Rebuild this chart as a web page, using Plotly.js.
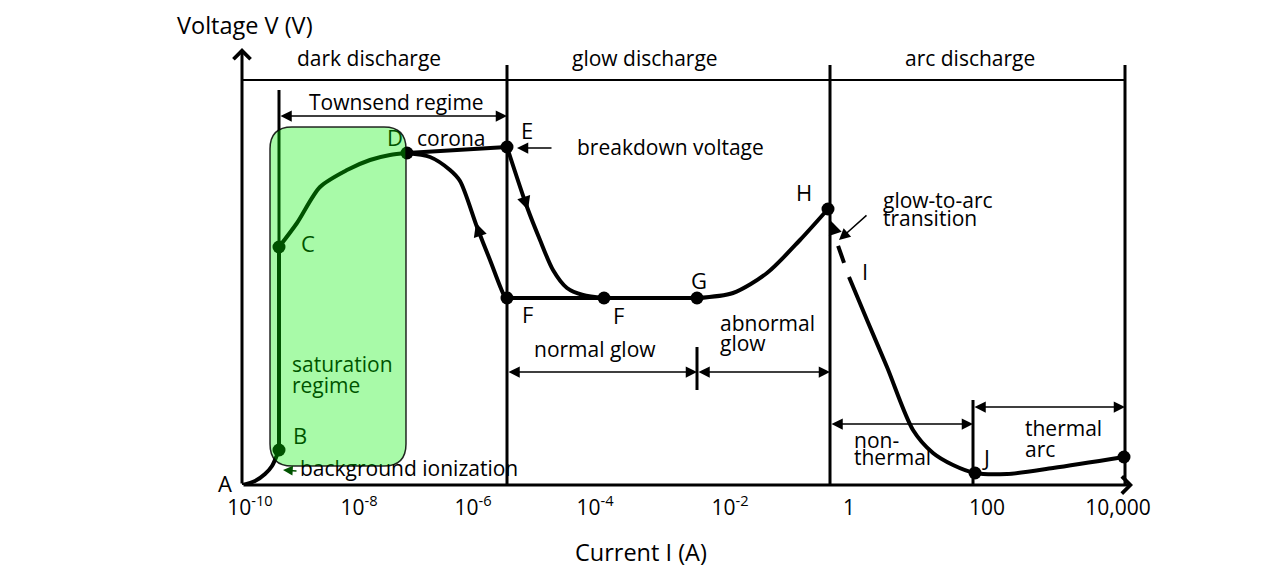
<!DOCTYPE html>
<html><head><meta charset="utf-8">
<script src="https://cdn.plot.ly/plotly-3.0.1.min.js"></script>
<style>html,body{margin:0;padding:0;background:#fff}</style>
</head><body><div id="chart" style="width:1279px;height:577px"></div>
<script>
// Schematic position along the (log) current axis and schematic voltage height
const tickPos = [8, 117, 231, 353, 488, 607, 745, 876];
const tickLabels = ['10<sup>-10</sup>', '10<sup>-8</sup>', '10<sup>-6</sup>', '10<sup>-4</sup>', '10<sup>-2</sup>', '1', '100', '10,000'];

// curve segments
const abX = [0, 13, 23, 30, 37];
const abY = [0, 4, 11, 19, 35];
const bcX = [37, 37];
const bcY = [35, 238];
const cdX = [37, 55, 78, 105, 128, 148, 165];
const cdY = [238, 262, 298, 315, 325, 330, 332];
const deX = [165, 265];
const deY = [332, 338];
const coronaX = [165, 188, 208, 218, 235, 248, 263, 265];
const coronaY = [332, 328, 315, 304, 258, 225, 188, 187];
const efX = [265, 285, 298, 311, 325, 341, 362];
const efY = [338, 278, 245, 215, 197, 190, 187];
const fgX = [265, 362, 455];
const fgY = [187, 187, 187];
const ghX = [455, 491, 525, 558, 586];
const ghY = [187, 192, 212, 245, 276];
const ihX = [607, 593];
const ihY = [208, 248];
const ijkX = [607, 625, 645, 671, 691, 711, 733, 765, 811, 882];
const ijkY = [208, 165, 118, 55, 32, 20, 12, 11, 17, 28];

// labelled points B C D E F F G H J K
const ptX = [37, 37, 165, 265, 265, 362, 455, 586, 733, 882];
const ptY = [35, 238, 332, 338, 187, 187, 187, 276, 12, 28];

// region frame
const regionBounds = [265, 588, 883];
const regionTop = 420;
const headerY = 405;
const jBound = [731, 85];
const townsendBound = [37, 35, 395];
const glowSplit = [455, 95, 138];
const satBoxX = [28, 164];
const satBoxY = [19, 358];

const FONT = '"Open Sans", Lato, sans-serif';
const FS = 21;
const K = '#000';

function line(x, y, shape, extra) {
  return Object.assign({x: x, y: y, mode: 'lines', type: 'scatter', hoverinfo: 'skip',
    line: {color: K, width: 4, shape: shape || 'linear', smoothing: 0.8}, showlegend: false}, extra || {});
}

const traces = [
  line(abX, abY, 'spline'),
  line(bcX, bcY),
  line(cdX, cdY, 'spline'),
  line(deX, deY),
  line(coronaX, coronaY, 'spline'),
  line(efX, efY, 'spline'),
  line(fgX, fgY),
  line(ghX, ghY, 'spline'),
  line(ihX, ihY, 'linear', {line: {color: K, width: 4, dash: '0px,15px,18px,40px'}}),
  line(ijkX, ijkY, 'spline'),
  {x: ptX, y: ptY, mode: 'markers', type: 'scatter', hoverinfo: 'skip', showlegend: false,
   marker: {color: K, size: 13}},
  // labels lying under the translucent saturation box
  {x: [66, 58, 153], y: [239, 47, 345], text: ['C', 'B', 'D'], mode: 'text', type: 'scatter',
   textposition: 'middle center', cliponaxis: false, hoverinfo: 'skip', showlegend: false,
   textfont: {family: FONT, size: 22, color: K}},
  {x: [50, 50, 58], y: [118, 97, 14], text: ['saturation', 'regime', 'background ionization'],
   mode: 'text', type: 'scatter', textposition: 'middle right', cliponaxis: false,
   hoverinfo: 'skip', showlegend: false, textfont: {family: FONT, size: FS, color: K}}
];

const shapes = [];
regionBounds.forEach(function (bx) {
  shapes.push({type: 'line', xref: 'x', yref: 'y', x0: bx, x1: bx, y0: 0, y1: regionTop,
    line: {color: K, width: 3}, layer: 'below'});
});
shapes.push({type: 'line', xref: 'x', yref: 'y', x0: 0, x1: regionBounds[2], y0: headerY, y1: headerY,
  line: {color: K, width: 2}, layer: 'below'});
shapes.push({type: 'line', xref: 'x', yref: 'y', x0: jBound[0], x1: jBound[0], y0: 0, y1: jBound[1],
  line: {color: K, width: 3}, layer: 'below'});
shapes.push({type: 'line', xref: 'x', yref: 'y', x0: townsendBound[0], x1: townsendBound[0],
  y0: townsendBound[1], y1: townsendBound[2], line: {color: K, width: 3}, layer: 'below'});
shapes.push({type: 'line', xref: 'x', yref: 'y', x0: glowSplit[0], x1: glowSplit[0],
  y0: glowSplit[1], y1: glowSplit[2], line: {color: K, width: 3}, layer: 'below'});
(function () {
  const x0 = satBoxX[0], x1 = satBoxX[1], y0 = satBoxY[0], y1 = satBoxY[1], r = 22;
  const p = 'M' + (x0 + r) + ',' + y0 + ' L' + (x1 - r) + ',' + y0 + ' Q' + x1 + ',' + y0 + ' ' + x1 + ',' + (y0 + r) +
    ' L' + x1 + ',' + (y1 - r) + ' Q' + x1 + ',' + y1 + ' ' + (x1 - r) + ',' + y1 +
    ' L' + (x0 + r) + ',' + y1 + ' Q' + x0 + ',' + y1 + ' ' + x0 + ',' + (y1 - r) +
    ' L' + x0 + ',' + (y0 + r) + ' Q' + x0 + ',' + y0 + ' ' + (x0 + r) + ',' + y0 + ' Z';
  shapes.push({type: 'path', xref: 'x', yref: 'y', path: p, fillcolor: 'rgba(0,241,0,0.34)',
    line: {color: 'rgba(0,0,0,0.85)', width: 1.5}, layer: 'above'});
})();

function txt(x, y, t, opts) {
  return Object.assign({x: x, y: y, xref: 'x', yref: 'y', text: t, showarrow: false,
    xanchor: 'center', yanchor: 'middle', font: {family: FONT, size: FS, color: K}}, opts || {});
}
function ptxt(x, y, t, size) {
  // texts placed outside the axis ranges: paper coordinates (1 unit = plot size)
  return {x: x / 900, y: y / 445, xref: 'paper', yref: 'paper', text: t, showarrow: false,
    xanchor: 'center', yanchor: 'middle', font: {family: FONT, size: size, color: K}};
}
function letter(x, y, t) {
  return txt(x, y, t, {font: {family: FONT, size: 22, color: K}});
}
function arrow(x0, y0, x1, y1, opts) {
  return Object.assign({x: x1, y: y1, ax: x0, ay: y0, xref: 'x', yref: 'y', axref: 'x', ayref: 'y',
    text: '', showarrow: true, arrowhead: 2, arrowsize: 1.5, arrowwidth: 1.5, arrowcolor: K,
    standoff: 0, startstandoff: 0}, opts || {});
}
function dbl(x0, x1, y) {
  return arrow(x0, y, x1, y, {arrowside: 'end+start', startarrowhead: 2, startarrowsize: 1.5});
}

const annotations = [
  // axes
  arrow(0, 0, 891, 0, {arrowhead: 4, arrowsize: 1.1, arrowwidth: 3}),
  arrow(0, 0, 0, 437, {arrowhead: 4, arrowsize: 1.1, arrowwidth: 3}),
  ptxt(3, 460, 'Voltage V (V)', 23.5),
  ptxt(399, -67, 'Current I (A)', 23.5),
  ptxt(-17, 2, 'A', 22),
  // region headers
  txt(127, 427, 'dark discharge'),
  txt(403, 427, 'glow discharge'),
  txt(728, 427, 'arc discharge'),
  txt(154, 383, 'Townsend regime'),
  dbl(37, 265, 369),
  txt(209, 347, 'corona'),
  letter(285, 355, 'E'),
  txt(428, 338, 'breakdown voltage'),
  arrow(311, 337, 275, 337),
  letter(562, 293, 'H'),
  txt(639, 285, 'glow-to-arc', {xanchor: 'left'}),
  txt(639, 267, 'transition', {xanchor: 'left'}),
  arrow(626, 271, 597, 245),
  letter(623, 214, 'I'),
  letter(285, 171, 'F'),
  letter(376, 170, 'F'),
  letter(457, 205, 'G'),
  txt(476, 162, 'abnormal', {xanchor: 'left'}),
  txt(476, 142, 'glow', {xanchor: 'left'}),
  txt(353, 136, 'normal glow'),
  dbl(265, 455, 113),
  dbl(455, 588, 113),
  txt(610, 45, 'non-', {xanchor: 'left'}),
  txt(610, 28, 'thermal', {xanchor: 'left'}),
  dbl(588, 731, 61),
  txt(781, 57, 'thermal', {xanchor: 'left'}),
  txt(781, 36, 'arc', {xanchor: 'left'}),
  dbl(731, 883, 78),
  letter(744, 28, 'J'),
  letter(902, 45, 'K'),
  // background ionization pointer (sits inside the green box)
  arrow(56, 14, 41, 15, {arrowcolor: 'rgb(0,82,0)', arrowsize: 1.3}),
  // direction arrows on the curve
  arrow(282, 287, 286, 275, {arrowwidth: 3, arrowsize: 0.9}),
  arrow(238, 250, 234, 262, {arrowwidth: 3, arrowsize: 0.9}),
  arrow(592, 255, 589, 264, {arrowwidth: 3, arrowsize: 0.9})
];

const layout = {
  width: 1279, height: 577,
  margin: {l: 242, r: 137, t: 40, b: 92},
  paper_bgcolor: '#fff', plot_bgcolor: '#fff',
  showlegend: false,
  xaxis: {range: [0, 900], tickvals: tickPos, ticktext: tickLabels, showgrid: false, zeroline: false,
    showline: false, ticks: '', ticklabelstandoff: 8, tickfont: {family: FONT, size: 21, color: K}, fixedrange: true},
  yaxis: {range: [0, 445], showticklabels: false, showgrid: false, zeroline: false, showline: false,
    ticks: '', fixedrange: true},
  shapes: shapes,
  annotations: annotations
};

Plotly.newPlot('chart', traces, layout, {displayModeBar: false, staticPlot: true});
</script>
</body></html>
